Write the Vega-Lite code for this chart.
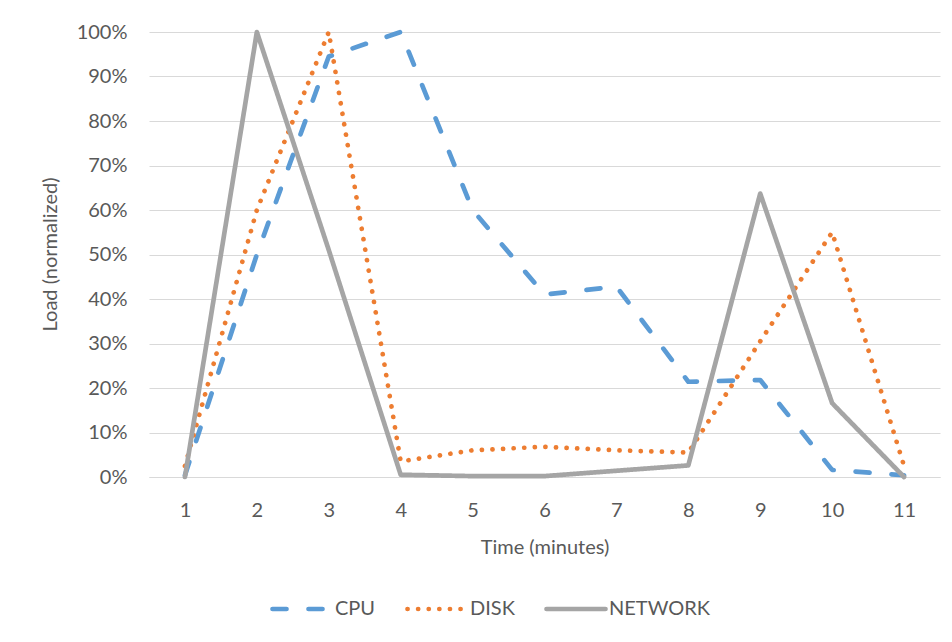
{
  "$schema": "https://vega.github.io/schema/vega-lite/v6.json",
  "width": 791,
  "height": 445,
  "autosize": "none",
  "padding": {"left": 149, "top": 32, "right": 12, "bottom": 165},
  "background": "white",
  "config": {
    "font": "Lato",
    "view": {"stroke": null},
    "axis": {"labelColor": "#595959", "titleColor": "#595959", "labelFont": "Lato", "titleFont": "Lato", "titleFontWeight": "normal"}
  },
  "data": {
    "values": [
      {"time": 1, "series": "CPU", "load": 0.004},
      {"time": 2, "series": "CPU", "load": 0.50},
      {"time": 3, "series": "CPU", "load": 0.945},
      {"time": 4, "series": "CPU", "load": 1.0},
      {"time": 5, "series": "CPU", "load": 0.60},
      {"time": 6, "series": "CPU", "load": 0.41},
      {"time": 7, "series": "CPU", "load": 0.428},
      {"time": 8, "series": "CPU", "load": 0.214},
      {"time": 9, "series": "CPU", "load": 0.218},
      {"time": 10, "series": "CPU", "load": 0.016},
      {"time": 11, "series": "CPU", "load": 0.004},
      {"time": 1, "series": "DISK", "load": 0.025},
      {"time": 2, "series": "DISK", "load": 0.60},
      {"time": 3, "series": "DISK", "load": 1.0},
      {"time": 4, "series": "DISK", "load": 0.035},
      {"time": 5, "series": "DISK", "load": 0.06},
      {"time": 6, "series": "DISK", "load": 0.068},
      {"time": 7, "series": "DISK", "load": 0.06},
      {"time": 8, "series": "DISK", "load": 0.055},
      {"time": 9, "series": "DISK", "load": 0.305},
      {"time": 10, "series": "DISK", "load": 0.55},
      {"time": 11, "series": "DISK", "load": 0.025},
      {"time": 1, "series": "NETWORK", "load": 0.0},
      {"time": 2, "series": "NETWORK", "load": 1.0},
      {"time": 3, "series": "NETWORK", "load": 0.51},
      {"time": 4, "series": "NETWORK", "load": 0.005},
      {"time": 5, "series": "NETWORK", "load": 0.002},
      {"time": 6, "series": "NETWORK", "load": 0.002},
      {"time": 7, "series": "NETWORK", "load": 0.014},
      {"time": 8, "series": "NETWORK", "load": 0.026},
      {"time": 9, "series": "NETWORK", "load": 0.637},
      {"time": 10, "series": "NETWORK", "load": 0.166},
      {"time": 11, "series": "NETWORK", "load": 0.0}
    ]
  },
  "mark": {"type": "line", "strokeWidth": 4.7, "strokeCap": "round", "strokeJoin": "round"},
  "encoding": {
    "x": {
      "field": "time",
      "type": "ordinal",
      "scale": {"type": "point", "padding": 0.5},
      "axis": {
        "title": "Time (minutes)",
        "labelAngle": 0,
        "labelFontSize": 20,
        "titleFontSize": 20,
        "ticks": false,
        "tickSize": 0,
        "domain": true,
        "domainColor": "#D9D9D9",
        "domainWidth": 1,
        "grid": false,
        "labelPadding": 23,
        "titlePadding": 17
      }
    },
    "y": {
      "field": "load",
      "type": "quantitative",
      "scale": {"domain": [0, 1], "nice": false},
      "axis": {
        "title": "Load (normalized)",
        "format": ".0%",
        "values": [0, 0.1, 0.2, 0.3, 0.4, 0.5, 0.6, 0.7, 0.8, 0.9, 1.0],
        "labelFontSize": 20,
        "titleFontSize": 20,
        "ticks": false,
        "tickSize": 0,
        "domain": false,
        "grid": true,
        "gridColor": "#D9D9D9",
        "gridWidth": 1,
        "labelPadding": 22,
        "titleX": -99,
        "titleY": 222,
        "titleBaseline": "middle"
      }
    },
    "color": {
      "field": "series",
      "type": "nominal",
      "scale": {"domain": ["CPU", "DISK", "NETWORK"], "range": ["#5B9BD5", "#ED7D31", "#A5A5A5"]},
      "legend": {
        "title": null,
        "orient": "none",
        "direction": "horizontal",
        "legendX": 121,
        "legendY": 545,
        "symbolType": "stroke",
        "symbolSize": 3481,
        "symbolStrokeWidth": 4.7,
        "labelFontSize": 20,
        "labelColor": "#595959",
        "labelOffset": 1,
        "columnPadding": 22,
        "encode": {"symbols": {"update": {"strokeCap": {"value": "round"}}}}
      }
    },
    "strokeDash": {
      "field": "series",
      "type": "nominal",
      "scale": {"domain": ["CPU", "DISK", "NETWORK"], "range": [[14, 22], [0.1, 10.5], [1, 0]]},
      "legend": {
        "title": null,
        "orient": "none",
        "direction": "horizontal",
        "legendX": 121,
        "legendY": 545,
        "symbolType": "stroke",
        "symbolSize": 3481,
        "symbolStrokeWidth": 4.7,
        "labelFontSize": 20,
        "labelColor": "#595959",
        "labelOffset": 1,
        "columnPadding": 22,
        "encode": {"symbols": {"update": {"strokeCap": {"value": "round"}}}}
      }
    }
  }
}
